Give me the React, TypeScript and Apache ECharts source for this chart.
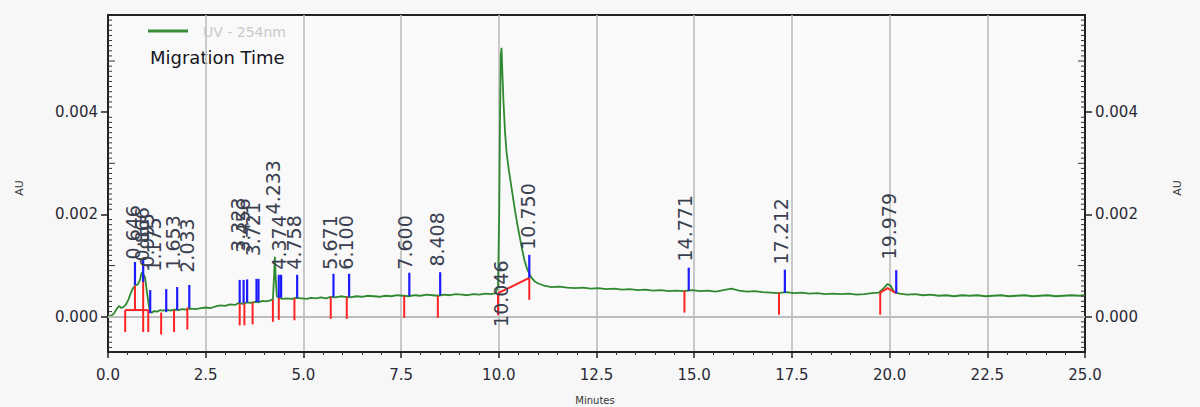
import React, { useEffect, useRef } from "react";
import * as echarts from "echarts";

// Electropherogram trace (minutes, AU)
const trace: [number, number][] = [
  [0.00, 0.00000], [0.08, 0.00002], [0.15, 0.00006], [0.22, 0.00015], [0.28, 0.00021], [0.34, 0.00017],
  [0.40, 0.00019], [0.46, 0.00024], [0.52, 0.00033], [0.58, 0.00046], [0.64, 0.00056], [0.70, 0.00061],
  [0.76, 0.00063], [0.81, 0.00070], [0.86, 0.00086], [0.91, 0.00083], [0.95, 0.00076], [0.99, 0.00052],
  [1.03, 0.00030], [1.07, 0.00010], [1.12, 0.00008], [1.18, 0.00011], [1.26, 0.00010], [1.34, 0.00013],
  [1.42, 0.00012], [1.50, 0.00014], [1.60, 0.00012], [1.70, 0.00014], [1.80, 0.00013], [1.90, 0.00015],
  [2.00, 0.00014], [2.12, 0.00016], [2.25, 0.00015], [2.38, 0.00017], [2.50, 0.00018], [2.62, 0.00017],
  [2.75, 0.00020], [2.88, 0.00022], [3.00, 0.00021], [3.12, 0.00024], [3.25, 0.00023], [3.35, 0.00027],
  [3.45, 0.00025], [3.55, 0.00028], [3.65, 0.00027], [3.75, 0.00029], [3.85, 0.00028], [3.95, 0.00031],
  [4.05, 0.00030], [4.15, 0.00032], [4.22, 0.00034], [4.25, 0.00080], [4.27, 0.00117], [4.29, 0.00078],
  [4.32, 0.00040], [4.38, 0.00037], [4.48, 0.00035], [4.58, 0.00036], [4.70, 0.00035], [4.82, 0.00037],
  [4.95, 0.00036], [5.08, 0.00035], [5.20, 0.00037], [5.32, 0.00036], [5.45, 0.00038], [5.58, 0.00036],
  [5.70, 0.00039], [5.82, 0.00038], [5.95, 0.00040], [6.08, 0.00039], [6.20, 0.00038], [6.35, 0.00040],
  [6.50, 0.00039], [6.65, 0.00041], [6.80, 0.00040], [6.95, 0.00039], [7.10, 0.00041], [7.25, 0.00040],
  [7.40, 0.00042], [7.55, 0.00041], [7.70, 0.00040], [7.85, 0.00042], [8.00, 0.00041], [8.15, 0.00043],
  [8.30, 0.00042], [8.45, 0.00041], [8.60, 0.00043], [8.75, 0.00042], [8.90, 0.00044], [9.05, 0.00043],
  [9.20, 0.00042], [9.35, 0.00044], [9.50, 0.00043], [9.65, 0.00045], [9.80, 0.00044], [9.92, 0.00046],
  [9.98, 0.00060], [10.01, 0.00200], [10.03, 0.00380], [10.05, 0.00510], [10.07, 0.00526], [10.09, 0.00480],
  [10.12, 0.00420], [10.16, 0.00360], [10.20, 0.00320], [10.26, 0.00285], [10.33, 0.00250], [10.42, 0.00205],
  [10.50, 0.00170], [10.58, 0.00138], [10.65, 0.00112], [10.73, 0.00092], [10.83, 0.00077], [10.92, 0.00069],
  [11.01, 0.00065], [11.15, 0.00061], [11.35, 0.00058], [11.55, 0.00059], [11.75, 0.00057], [11.95, 0.00056],
  [12.15, 0.00057], [12.35, 0.00055], [12.55, 0.00056], [12.75, 0.00054], [12.95, 0.00055], [13.15, 0.00053],
  [13.35, 0.00054], [13.55, 0.00052], [13.75, 0.00053], [13.95, 0.00051], [14.15, 0.00052], [14.35, 0.00050],
  [14.55, 0.00051], [14.75, 0.00050], [14.95, 0.00052], [15.15, 0.00050], [15.35, 0.00051], [15.55, 0.00049],
  [15.75, 0.00052], [15.95, 0.00055], [16.15, 0.00051], [16.35, 0.00049], [16.55, 0.00050], [16.75, 0.00048],
  [16.95, 0.00047], [17.15, 0.00046], [17.35, 0.00048], [17.55, 0.00046], [17.75, 0.00047], [17.95, 0.00045],
  [18.15, 0.00046], [18.35, 0.00044], [18.55, 0.00045], [18.75, 0.00044], [18.95, 0.00045], [19.15, 0.00043],
  [19.35, 0.00044], [19.55, 0.00046], [19.72, 0.00047], [19.85, 0.00056], [19.95, 0.00064], [20.03, 0.00060],
  [20.12, 0.00048], [20.25, 0.00045], [20.45, 0.00043], [20.65, 0.00044], [20.85, 0.00042], [21.05, 0.00043],
  [21.25, 0.00041], [21.45, 0.00042], [21.65, 0.00040], [21.85, 0.00042], [22.05, 0.00041], [22.25, 0.00042],
  [22.45, 0.00040], [22.65, 0.00041], [22.85, 0.00042], [23.05, 0.00040], [23.25, 0.00041], [23.45, 0.00042],
  [23.65, 0.00040], [23.85, 0.00041], [24.05, 0.00042], [24.25, 0.00040], [24.45, 0.00041], [24.65, 0.00042],
  [24.85, 0.00041], [25.00, 0.00042],
];

// Peak start markers (time, AU at baseline)
const peakStarts: [number, number][] = [
  [0.44, 0.00013], [0.90, 0.00013], [1.03, 0.00013], [1.36, 0.00008], [1.69, 0.00013], [2.03, 0.00018],
  [3.37, 0.00026], [3.49, 0.00026], [3.70, 0.00028], [4.22, 0.00033], [4.37, 0.00037], [4.77, 0.00036],
  [5.70, 0.00039], [6.11, 0.00039], [7.58, 0.00041], [8.44, 0.00041], [9.98, 0.00046], [10.78, 0.00076],
  [14.75, 0.00051], [17.17, 0.00047], [19.76, 0.00047],
];

// Peak end markers (time, AU at baseline)
const peakEnds: [number, number][] = [
  [0.69, 0.00062], [0.90, 0.00068], [1.08, 0.00007], [1.49, 0.00009], [1.77, 0.00013], [2.08, 0.00017],
  [3.37, 0.00027], [3.47, 0.00027], [3.56, 0.00028], [3.80, 0.00029], [3.85, 0.00029], [4.37, 0.00037],
  [4.43, 0.00037], [4.84, 0.00037], [5.77, 0.00039], [6.17, 0.00039], [7.71, 0.00041], [8.50, 0.00042],
  [10.78, 0.00076], [14.86, 0.00051], [17.32, 0.00047], [20.17, 0.00046],
];

// Integration baselines and drop lines
const integrationLines: [number, number][][] = [
  [[0.44, 0.00013], [1.03, 0.00013]],
  [[0.69, 0.00013], [0.69, 0.00061]],
  [[0.90, 0.00013], [0.90, 0.00082]],
  [[9.98, 0.00046], [10.78, 0.00076]],
  [[19.76, 0.00047], [19.95, 0.00056], [20.17, 0.00046]],
];

// Migration time labels and the AU level at which each label starts
const migrationTimes = [
  "0.646", "0.866", "0.995", "1.175", "1.653", "2.033", "3.323", "3.456", "3.721", "4.233", "4.374",
  "4.758", "5.671", "6.100", "7.600", "8.408", "10.046", "10.750", "14.771", "17.212", "19.979",
];
const labelLevels = [
  0.00112, 0.00108, 0.00096, 0.00088, 0.00092, 0.00086, 0.00127, 0.00125, 0.00118, 0.0020, 0.00092,
  0.00092, 0.00092, 0.00092, 0.00092, 0.00098, -0.0002, 0.00131, 0.00108, 0.00102, 0.00112,
];

const yTickValues = [0, 0.002, 0.004];
const Y_MIN = -0.00069;
const Y_MAX = 0.0059;

const FONT = "DejaVu Sans";

export default function App() {
  const ref = useRef<HTMLDivElement>(null);

  useEffect(() => {
    if (!ref.current) return;
    const chart = echarts.init(ref.current, undefined, { renderer: "svg" });

    // y-axis minor tick positions (every 0.0001 AU, longer every 0.001 AU): [x, AU, length]
    const yMinorTicks: [number, number, number][] = [];
    for (let k = -6; k <= 58; k++) {
      if (k % 20 === 0) continue;
      yMinorTicks.push([1, k / 10000, k % 10 === 0 ? 6 : 3]);
    }

    const makeY = (pos: "left" | "right") => ({
      type: "value",
      position: pos,
      min: Y_MIN,
      max: Y_MAX,
      splitLine: { show: false },
      axisLine: { show: true, onZero: false, lineStyle: { color: "#222", width: 2 } },
      axisTick: { show: true, length: 7, customValues: yTickValues, lineStyle: { color: "#222", width: 1.5 } },
      axisLabel: {
        show: true,
        customValues: yTickValues,
        formatter: (v: number) => v.toFixed(3),
        fontFamily: FONT,
        fontSize: 15,
        color: "#2a2a35",
        margin: 10,
      },
    });

    const option: any = {
      animation: false,
      backgroundColor: "#f7f7f7",
      grid: {
        left: 108,
        right: 115,
        top: 15,
        bottom: 55,
        show: true,
        backgroundColor: "#f9f9f9",
        borderColor: "#222",
        borderWidth: 2,
      },
      xAxis: {
        type: "value",
        min: 0,
        max: 25,
        interval: 2.5,
        axisLine: { show: true, onZero: false, lineStyle: { color: "#222", width: 2 } },
        axisTick: { show: true, length: 6, lineStyle: { color: "#222", width: 1.5 } },
        minorTick: { show: true, splitNumber: 5, length: 3, lineStyle: { color: "#333", width: 1 } },
        splitLine: { show: true, lineStyle: { color: "#bdbdbd", width: 1.6 } },
        axisLabel: {
          formatter: (v: number) => v.toFixed(1),
          fontFamily: FONT,
          fontSize: 15,
          color: "#2a2a35",
          margin: 15,
          showMinLabel: true,
          showMaxLabel: true,
        },
      },
      yAxis: [makeY("left"), makeY("right")],
      graphic: [
        {
          type: "line",
          shape: { x1: 148, y1: 31, x2: 188, y2: 31 },
          style: { stroke: "#3a8f3a", lineWidth: 3 },
        },
        {
          type: "text",
          x: 203,
          y: 32,
          style: { text: "UV - 254nm", fontFamily: FONT, fontSize: 14, fill: "#c9c9c9", textVerticalAlign: "middle" },
        },
        {
          type: "text",
          x: 150,
          y: 57,
          style: { text: "Migration Time", fontFamily: FONT, fontSize: 18, fill: "#151520", textVerticalAlign: "middle" },
        },
        {
          type: "text",
          x: 19,
          y: 188,
          rotation: Math.PI / 2,
          style: { text: "AU", fontFamily: FONT, fontSize: 11, fill: "#333", textAlign: "center", textVerticalAlign: "middle" },
        },
        {
          type: "text",
          x: 1177,
          y: 188,
          rotation: Math.PI / 2,
          style: { text: "AU", fontFamily: FONT, fontSize: 11, fill: "#333", textAlign: "center", textVerticalAlign: "middle" },
        },
        {
          type: "text",
          x: 595,
          y: 395,
          style: { text: "Minutes", fontFamily: FONT, fontSize: 10, fill: "#333", textAlign: "center", textVerticalAlign: "top" },
        },
      ],
      series: [
        {
          type: "line",
          name: "grid",
          data: [],
          z: 1,
          markLine: {
            silent: true,
            symbol: "none",
            label: { show: false },
            lineStyle: { color: "#bdbdbd", width: 1.6, type: "solid" },
            data: yTickValues.map((v) => ({ yAxis: v })),
          },
        },
        {
          type: "custom",
          name: "y minor ticks",
          z: 7,
          silent: true,
          clip: false,
          encode: { x: 0, y: 1 },
          data: yMinorTicks,
          renderItem: (params: any, api: any) => {
            const cs = params.coordSys;
            const pt = api.coord([api.value(0), api.value(1)]);
            const len = api.value(2);
            const y = pt[1];
            return {
              type: "group",
              children: [
                { type: "line", shape: { x1: cs.x, y1: y, x2: cs.x + len + 1, y2: y }, style: { stroke: "#333", lineWidth: 1 } },
                {
                  type: "line",
                  shape: { x1: cs.x + cs.width - len - 1, y1: y, x2: cs.x + cs.width, y2: y },
                  style: { stroke: "#333", lineWidth: 1 },
                },
              ],
            };
          },
        },
        {
          type: "line",
          name: "UV - 254nm",
          data: trace,
          showSymbol: false,
          symbol: "none",
          z: 3,
          lineStyle: { color: "#2f8a2f", width: 1.8 },
        },
        {
          type: "lines",
          coordinateSystem: "cartesian2d",
          polyline: true,
          silent: true,
          z: 4,
          lineStyle: { color: "#ff2424", width: 2, opacity: 1 },
          data: integrationLines.map((c) => ({ coords: c })),
        },
        {
          type: "custom",
          z: 5,
          silent: true,
          data: peakStarts,
          renderItem: (_p: any, api: any) => {
            const pt = api.coord([api.value(0), api.value(1)]);
            return {
              type: "line",
              shape: { x1: pt[0], y1: pt[1], x2: pt[0], y2: pt[1] + 22 },
              style: { stroke: "#ff2424", lineWidth: 2 },
            };
          },
        },
        {
          type: "custom",
          z: 5,
          silent: true,
          data: peakEnds,
          renderItem: (_p: any, api: any) => {
            const pt = api.coord([api.value(0), api.value(1)]);
            return {
              type: "line",
              shape: { x1: pt[0], y1: pt[1], x2: pt[0], y2: pt[1] - 23 },
              style: { stroke: "#1c1cff", lineWidth: 2.2 },
            };
          },
        },
        {
          type: "custom",
          z: 6,
          silent: true,
          data: migrationTimes.map((t, i) => [parseFloat(t), labelLevels[i]]),
          renderItem: (p: any, api: any) => {
            const pt = api.coord([api.value(0), api.value(1)]);
            return {
              type: "text",
              x: pt[0],
              y: pt[1],
              rotation: Math.PI / 2,
              style: {
                text: migrationTimes[p.dataIndex],
                fontFamily: FONT,
                fontSize: 19,
                fill: "#3a4050",
                textAlign: "left",
                textVerticalAlign: "middle",
              },
            };
          },
        },
      ],
    };

    chart.setOption(option);
    return () => chart.dispose();
  }, []);

  return (
    <div
      ref={ref}
      style={{ position: "absolute", left: 0, top: 0, width: 1200, height: 407 }}
    />
  );
}
